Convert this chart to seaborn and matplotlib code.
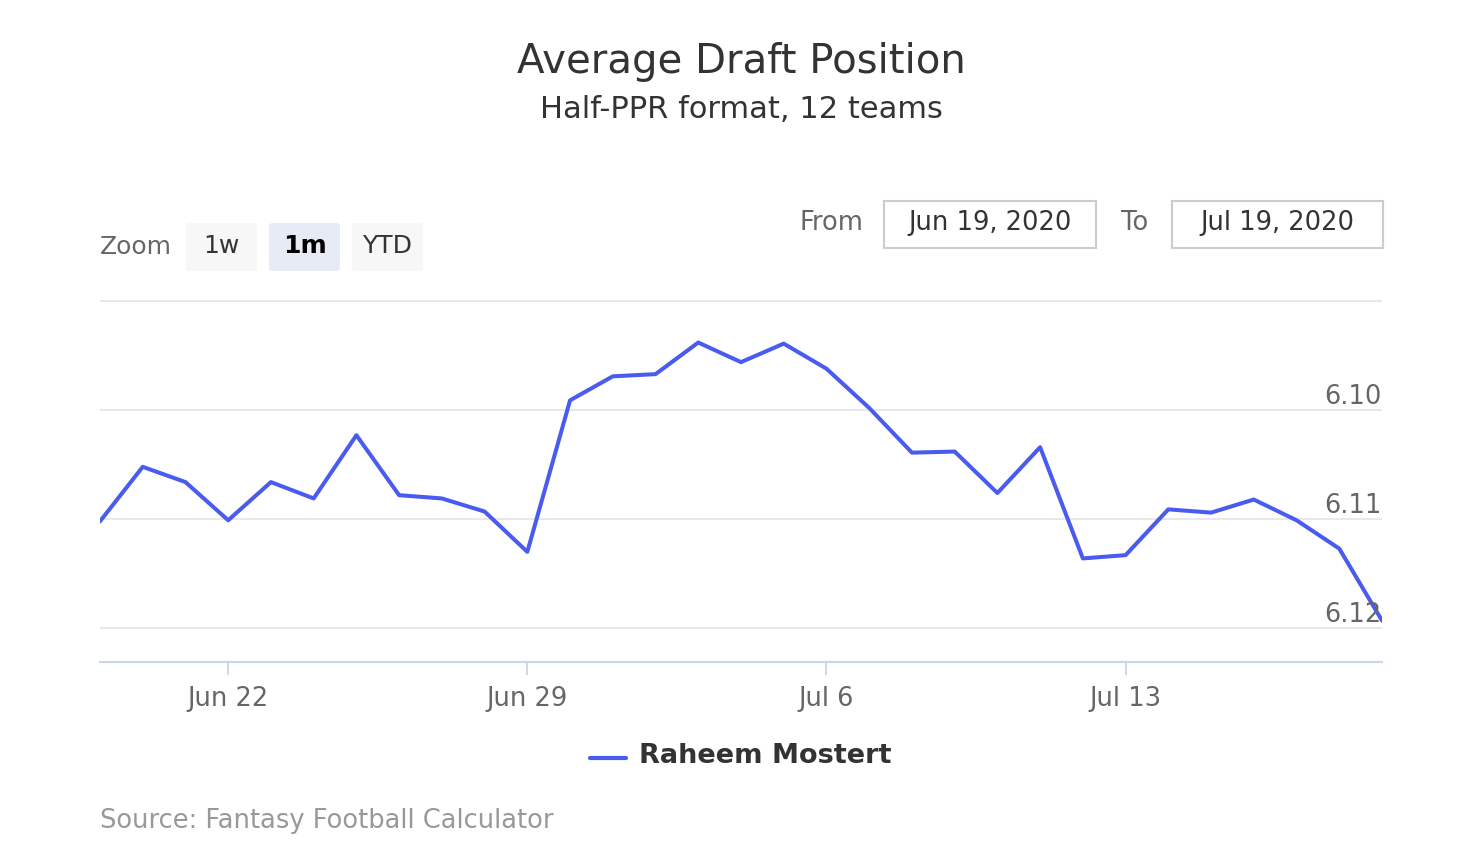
import numpy as np
import pandas as pd
import seaborn as sns
import matplotlib.pyplot as plt
import matplotlib.dates as mdates
from matplotlib.patches import FancyBboxPatch, Rectangle
from matplotlib.lines import Line2D

# ADP values, one per day from Jun 19 to Jul 19 2020
dates = pd.date_range('2020-06-19', '2020-07-19', freq='D')
adp = [6.1102, 6.1052, 6.1066, 6.1101, 6.1066, 6.1081, 6.1023, 6.1078, 6.1081, 6.1093,
       6.1130, 6.0991, 6.0969, 6.0967, 6.0938, 6.0956, 6.0939, 6.0962, 6.0998, 6.1039,
       6.1038, 6.1076, 6.1034, 6.1136, 6.1133, 6.1091, 6.1094, 6.1082, 6.1101, 6.1127,
       6.1193]
player = 'Raheem Mostert'
y_ticks = [6.09, 6.10, 6.11, 6.12]
x_ticks = ['2020-06-22', '2020-06-29', '2020-07-06', '2020-07-13']

LINE = '#4a5bef'
W, H = 1466, 863


def fx(px):
    return px / W


def fy(py):
    return 1 - py / H


sns.set_theme(style='white')
plt.rcParams['font.family'] = ['DejaVu Sans']

df = pd.DataFrame({'date': dates, 'adp': adp})

fig = plt.figure(figsize=(W / 100, H / 100), dpi=100)
ax = fig.add_axes([fx(100), fy(662), fx(1382) - fx(100), fy(300) - fy(662)])

sns.lineplot(data=df, x='date', y='adp', ax=ax, color=LINE, linewidth=2.9,
             legend=False, zorder=3)

ax.set_xlim(dates[0], dates[-1])
ax.set_ylim(6.1231, 6.0899)  # reversed: lower ADP is better
ax.set_xlabel('')
ax.set_ylabel('')

# grid lines + labels sitting above them on the right
ax.set_yticks(y_ticks)
ax.set_yticklabels([])
ax.tick_params(axis='y', length=0)
for v in y_ticks:
    ax.axhline(v, color='#e6e6e6', linewidth=1.3, zorder=1)
    if v > 6.095:
        ax.text(1.0, v - 0.00003, f'{v:.2f}', transform=ax.get_yaxis_transform(),
                ha='right', va='bottom', fontsize=18.5, color='#666666')

ax.set_xticks(pd.to_datetime(x_ticks))
ax.xaxis.set_major_formatter(mdates.DateFormatter('%b %-d'))
ax.tick_params(axis='x', length=9, width=1.3, color='#ccd6eb', labelsize=18.5,
               labelcolor='#666666', pad=8, direction='out', bottom=True)

for side in ['top', 'left', 'right']:
    ax.spines[side].set_visible(False)
ax.spines['bottom'].set_color('#ccd6eb')
ax.spines['bottom'].set_linewidth(1.5)

# titles
fig.text(fx(741), fy(62), 'Average Draft Position', ha='center', va='center',
         fontsize=29, color='#333333')
fig.text(fx(741), fy(110), 'Half-PPR format, 12 teams', ha='center', va='center',
         fontsize=22, color='#333333')

# range selector buttons
fig.text(fx(100), fy(247), 'Zoom', ha='left', va='center', fontsize=18, color='#666666')
buttons = [('1w', 186, '#f7f7f7', 'normal'), ('1m', 269, '#e6ebf5', 'bold'),
           ('YTD', 352, '#f7f7f7', 'normal')]
for label, left, face, weight in buttons:
    fig.patches.append(FancyBboxPatch((fx(left), fy(271)), fx(71), fy(223) - fy(271),
                                      boxstyle='round,pad=0,rounding_size=0.003',
                                      transform=fig.transFigure, facecolor=face,
                                      edgecolor='none'))
    fig.text(fx(left + 35.5), fy(246), label, ha='center', va='center', fontsize=18,
             color='#000000' if weight == 'bold' else '#333333', fontweight=weight)

# date inputs
fig.text(fx(800), fy(223), 'From', ha='left', va='center', fontsize=18.5, color='#666666')
fig.text(fx(1121), fy(223), 'To', ha='left', va='center', fontsize=18.5, color='#666666')
for left, right, txt in [(884, 1096, 'Jun 19, 2020'), (1172, 1383, 'Jul 19, 2020')]:
    fig.patches.append(Rectangle((fx(left), fy(248)), fx(right - left), fy(201) - fy(248),
                                 transform=fig.transFigure, facecolor='white',
                                 edgecolor='#cccccc', linewidth=1.5))
    fig.text(fx((left + right) / 2), fy(223), txt, ha='center', va='center',
             fontsize=18.5, color='#333333')

# legend
fig.lines.append(Line2D([fx(590), fx(626)], [fy(758), fy(758)], color=LINE,
                        linewidth=3, transform=fig.transFigure))
fig.text(fx(639), fy(756), player, ha='left', va='center', fontsize=19.5,
         fontweight='bold', color='#333333')

# credits
fig.text(fx(100), fy(821), 'Source: Fantasy Football Calculator', ha='left', va='center',
         fontsize=18.5, color='#999999')

fig.savefig('out.png', dpi=100, facecolor='white')
